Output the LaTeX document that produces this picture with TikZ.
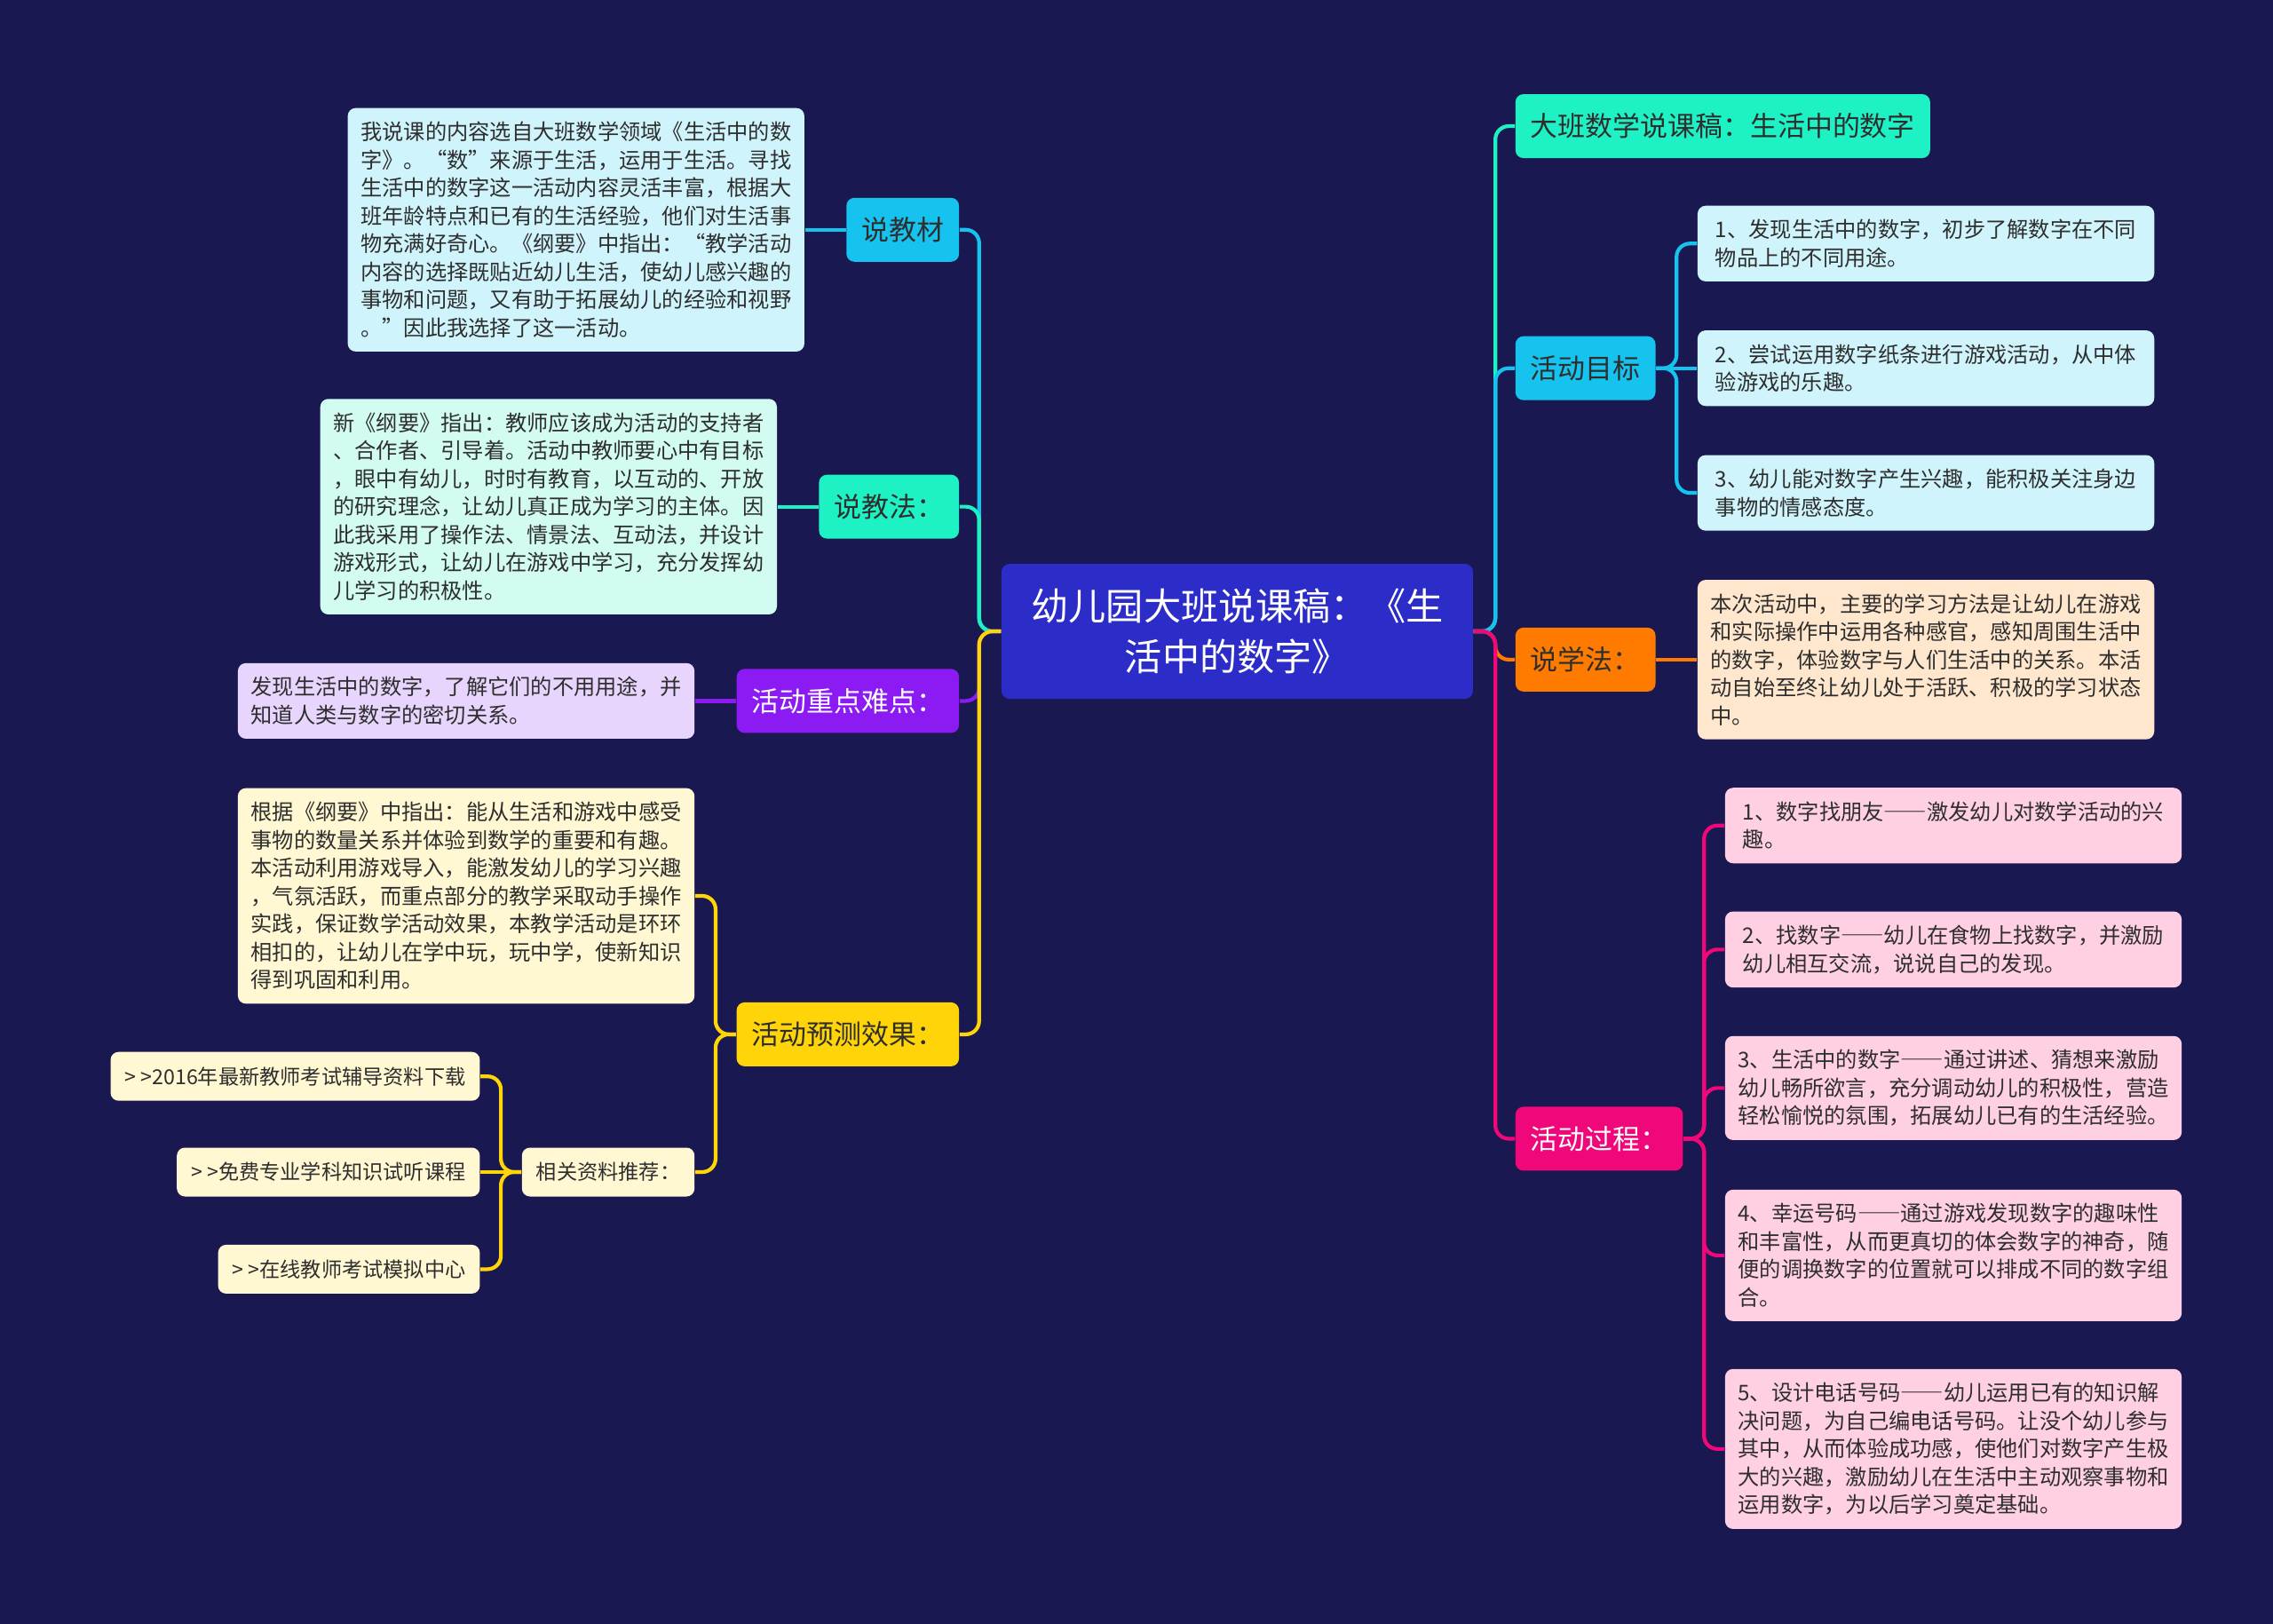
\documentclass[tikz,border=0pt]{standalone}
\usepackage{fontspec}
\setmainfont{Noto Sans CJK SC}
\usetikzlibrary{positioning}
\definecolor{bgnavy}{HTML}{1A1850}
\definecolor{rootblue}{HTML}{2C2CC8}
\definecolor{colSky}{HTML}{16C2EE}
\definecolor{colMint}{HTML}{1EF2C4}
\definecolor{colGrape}{HTML}{8B1BF2}
\definecolor{colSun}{HTML}{FFD408}
\definecolor{colTang}{HTML}{FF7B00}
\definecolor{colRose}{HTML}{F0087A}
\definecolor{lfSky}{HTML}{D0F4FC}
\definecolor{lfMint}{HTML}{D2FCF1}
\definecolor{lfGrape}{HTML}{E7D5FD}
\definecolor{lfSun}{HTML}{FFF8D3}
\definecolor{lfTang}{HTML}{FFE7CE}
\definecolor{lfRose}{HTML}{FFD0E4}
\definecolor{ink}{HTML}{2E2E2E}
\newcommand{\rootfont}{\fontsize{12}{16.2}\selectfont}
\newcommand{\branchfont}{\fontsize{8.8}{10.6}\selectfont}
\newcommand{\leaffont}{\fontsize{6.9}{8.97}\selectfont}
\newcommand{\reffont}{\fontsize{6.6}{8}\selectfont}
\newcommand{\ddash}{{\addfontfeature{RawFeature=+fwid}——}}
\newcommand{\gtgt}{>\hspace{0.22em}>}

\begin{document}
\begin{tikzpicture}[
  x=0.016327cm, y=-0.016327cm,
  node distance=0.46cm,
  every node/.style={text=ink},
  box/.style={rounded corners=0.9mm, inner xsep=0.17cm},
  root/.style={box, fill=rootblue, text=white, font=\rootfont, align=center, minimum width=5.31cm, minimum height=1.52cm},
  branch/.style={box, font=\branchfont, minimum height=0.72cm},
  leaf/.style={box, font=\leaffont, align=left, minimum width=5.143cm, inner xsep=0.13cm, inner ysep=0.155cm},
  refbox/.style={box, fill=lfSun, font=\reffont, minimum height=0.55cm, inner xsep=0.16cm},
  link/.style={line width=1.2pt, rounded corners=0.15cm}
]
\fill[bgnavy] (0,0) rectangle (1568,1120);
\useasboundingbox (0,0) rectangle (1568,1120);

\node[root] (root) at (853.5,435.5) {幼儿园大班说课稿：《生\\活中的数字》};

\node[branch, fill=colSky, anchor=east] (jc) at (662,158.5) {说教材};
\node[branch, fill=colMint, anchor=east] (jf) at (662,349.5) {说教法：};
\node[branch, fill=colGrape, text=white, anchor=east] (zd) at (662,483.5) {活动重点难点：};
\node[branch, fill=colSun, anchor=east] (yc) at (662,713.5) {活动预测效果：};

\node[leaf, fill=lfSky, left=of jc] (jcl) {我说课的内容选自大班数学领域《生活中的数\\字》。“数”来源于生活，运用于生活。寻找\\生活中的数字这一活动内容灵活丰富，根据大\\班年龄特点和已有的生活经验，他们对生活事\\物充满好奇心。《纲要》中指出：“教学活动\\内容的选择既贴近幼儿生活，使幼儿感兴趣的\\事物和问题，又有助于拓展幼儿的经验和视野\\。”因此我选择了这一活动。};
\node[leaf, fill=lfMint, left=of jf] (jfl) {新《纲要》指出：教师应该成为活动的支持者\\、合作者、引导着。活动中教师要心中有目标\\，眼中有幼儿，时时有教育，以互动的、开放\\的研究理念，让幼儿真正成为学习的主体。因\\此我采用了操作法、情景法、互动法，并设计\\游戏形式，让幼儿在游戏中学习，充分发挥幼\\儿学习的积极性。};
\node[leaf, fill=lfGrape, left=of zd] (zdl) {发现生活中的数字，了解它们的不用用途，并\\知道人类与数字的密切关系。};
\node[leaf, fill=lfSun, left=of yc, yshift=1.559cm] (ycl) {根据《纲要》中指出：能从生活和游戏中感受\\事物的数量关系并体验到数学的重要和有趣。\\本活动利用游戏导入，能激发幼儿的学习兴趣\\，气氛活跃，而重点部分的教学采取动手操作\\实践，保证数学活动效果，本教学活动是环环\\相扣的，让幼儿在学中玩，玩中学，使新知识\\得到巩固和利用。};
\node[refbox, left=of yc, yshift=-1.551cm] (tj) {相关资料推荐：};
\node[refbox, left=of tj, yshift=1.078cm] (tj1) {\gtgt2016年最新教师考试辅导资料下载};
\node[refbox, left=of tj] (tj2) {\gtgt 免费专业学科知识试听课程};
\node[refbox, left=of tj, yshift=-1.094cm] (tj3) {\gtgt 在线教师考试模拟中心};

\node[branch, fill=colMint, anchor=west] (title) at (1045,87) {大班数学说课稿：生活中的数字};
\node[branch, fill=colSky, anchor=west] (mb) at (1045,254) {活动目标};
\node[branch, fill=colTang, anchor=west] (xf) at (1045,455) {说学法：};
\node[branch, fill=colRose, text=white, anchor=west] (gc) at (1045,785.5) {活动过程：};

\node[leaf, fill=lfSky, right=of mb, yshift=1.404cm] (mb1) {1、发现生活中的数字，初步了解数字在不同\\物品上的不同用途。};
\node[leaf, fill=lfSky, right=of mb] (mb2) {2、尝试运用数字纸条进行游戏活动，从中体\\验游戏的乐趣。};
\node[leaf, fill=lfSky, right=of mb, yshift=-1.404cm] (mb3) {3、幼儿能对数字产生兴趣，能积极关注身边\\事物的情感态度。};
\node[leaf, fill=lfTang, right=of xf] (xfl) {本次活动中，主要的学习方法是让幼儿在游戏\\和实际操作中运用各种感官，感知周围生活中\\的数字，体验数字与人们生活中的关系。本活\\动自始至终让幼儿处于活跃、积极的学习状态\\中。};
\node[leaf, fill=lfRose, right=of gc, yshift=3.527cm] (gc1) {1、数字找朋友\ddash 激发幼儿对数学活动的兴\\趣。};
\node[leaf, fill=lfRose, right=of gc, yshift=2.131cm] (gc2) {2、找数字\ddash 幼儿在食物上找数字，并激励\\幼儿相互交流，说说自己的发现。};
\node[leaf, fill=lfRose, right=of gc, yshift=0.571cm] (gc3) {3、生活中的数字\ddash 通过讲述、猜想来激励\\幼儿畅所欲言，充分调动幼儿的积极性，营造\\轻松愉悦的氛围，拓展幼儿已有的生活经验。};
\node[leaf, fill=lfRose, right=of gc, yshift=-1.314cm] (gc4) {4、幸运号码\ddash 通过游戏发现数字的趣味性\\和丰富性，从而更真切的体会数字的神奇，随\\便的调换数字的位置就可以排成不同的数字组\\合。};
\node[leaf, fill=lfRose, right=of gc, yshift=-3.494cm] (gc5) {5、设计电话号码\ddash 幼儿运用已有的知识解\\决问题，为自己编电话号码。让没个幼儿参与\\其中，从而体验成功感，使他们对数字产生极\\大的兴趣，激励幼儿在生活中主动观察事物和\\运用数字，为以后学习奠定基础。};

\draw[link, colSky] (root.west) -- ++(-0.245cm,0) |- (jc.east);
\draw[link, colMint] (root.west) -- ++(-0.245cm,0) |- (jf.east);
\draw[link, colGrape] (root.west) -- ++(-0.245cm,0) |- (zd.east);
\draw[link, colSun] (root.west) -- ++(-0.245cm,0) |- (yc.east);
\draw[link, colMint] (root.east) -- ++(0.245cm,0) |- (title.west);
\draw[link, colSky] (root.east) -- ++(0.245cm,0) |- (mb.west);
\draw[link, colTang] (root.east) -- ++(0.245cm,0) |- (xf.west);
\draw[link, colRose] (root.east) -- ++(0.245cm,0) |- (gc.west);

\draw[link, colSky] (jc.west) -- (jcl.east);
\draw[link, colMint] (jf.west) -- (jfl.east);
\draw[link, colGrape] (zd.west) -- (zdl.east);
\draw[link, colSun] (yc.west) -- ++(-0.23cm,0) |- (ycl.east);
\draw[link, colSun] (yc.west) -- ++(-0.23cm,0) |- (tj.east);
\draw[link, colSun] (tj.west) -- ++(-0.23cm,0) |- (tj1.east);
\draw[link, colSun] (tj.west) -- (tj2.east);
\draw[link, colSun] (tj.west) -- ++(-0.23cm,0) |- (tj3.east);

\draw[link, colSky] (mb.east) -- ++(0.23cm,0) |- (mb1.west);
\draw[link, colSky] (mb.east) -- (mb2.west);
\draw[link, colSky] (mb.east) -- ++(0.23cm,0) |- (mb3.west);
\draw[link, colTang] (xf.east) -- (xfl.west);
\draw[link, colRose] (gc.east) -- ++(0.23cm,0) |- (gc1.west);
\draw[link, colRose] (gc.east) -- ++(0.23cm,0) |- (gc2.west);
\draw[link, colRose] (gc.east) -- ++(0.23cm,0) |- (gc3.west);
\draw[link, colRose] (gc.east) -- ++(0.23cm,0) |- (gc4.west);
\draw[link, colRose] (gc.east) -- ++(0.23cm,0) |- (gc5.west);
\end{tikzpicture}
\end{document}
